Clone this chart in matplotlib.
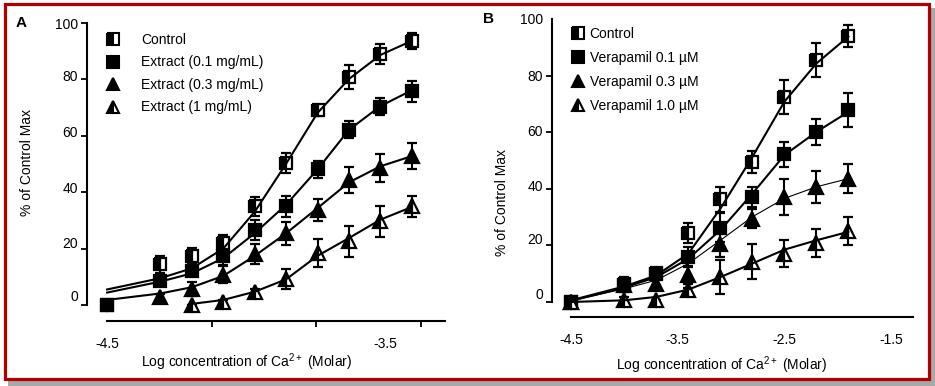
import numpy as np
import matplotlib
matplotlib.use("Agg")
import matplotlib.pyplot as plt
from matplotlib.lines import Line2D
from matplotlib.patches import Rectangle

plt.rcParams['font.family'] = ['Liberation Sans', 'DejaVu Sans']
plt.rcParams['mathtext.fontset'] = 'custom'
plt.rcParams['mathtext.rm'] = 'Liberation Sans'
plt.rcParams['mathtext.it'] = 'Liberation Sans:italic'

nan = np.nan

# ---- panel A : extract ----
xa = [-4.5, -4.33, -4.23, -4.13, -4.03, -3.93, -3.83, -3.73, -3.63, -3.53]
labels_a = ["Control", "Extract (0.1 mg/mL)", "Extract (0.3 mg/mL)", "Extract (1 mg/mL)"]
a_ctrl = [0, 14.4, 17.4, 21.9, 34.9, 50.3, 68.9, 80.7, 89.0, 93.5]
a_ctrl_err = [0, 3, 2.7, 3, 3.3, 3.4, 2, 4.1, 3.5, 2.8]
a_ctrl_fit = [5.5, 9.5, 13, 20, 33, 50, 68, 80, 88.5, 93.5]
a_01 = [0, 8.5, 12.2, 17.2, 26.6, 34.9, 48, 62, 70.2, 75.7]
a_01_err = [0, 1.5, 2, 3, 3.5, 3.8, 3.1, 3, 3, 3.7]
a_01_fit = [4.4, 8.3, 11.2, 16.6, 25.4, 35.5, 48, 62, 70.4, 76]
a_03 = [nan, 3, 5.6, 10.7, 18.1, 25.4, 33.7, 44.4, 48.5, 52.9]
a_03_err = [0, 1, 2.4, 3, 3.6, 4.1, 4, 4.6, 5, 4.6]
a_03_fit = [1.8, 4.1, 6.3, 10.3, 17.4, 25.4, 34.3, 43.4, 49.1, 52.7]
a_1 = [nan, nan, 0, 1.2, 4.7, 9.1, 18.3, 22.5, 29.6, 34.9]
a_1_err = [0, 0, 0, 0.5, 0.8, 3.6, 4.9, 5.6, 5.6, 3.6]
a_1_fit = [nan, nan, 0.4, 1.8, 4.7, 9.1, 17.4, 23.7, 30.2, 34.7]

# ---- panel B : verapamil ----
xb = [-4.5, -4.0, -3.7, -3.4, -3.1, -2.8, -2.5, -2.2, -1.9]
labels_b = ["Control", "Verapamil 0.1 \u00b5M", "Verapamil 0.3 \u00b5M", "Verapamil 1.0 \u00b5M"]
b_ctrl = [0, 6.5, 10.3, 24.4, 36.3, 49.5, 72.5, 85.5, 94]
b_ctrl_err = [0, 2.5, 1.5, 3.5, 4.4, 3.8, 5.9, 6, 4]
b_ctrl_fit = [0.6, 5.5, 9.4, 17.1, 33, 51.3, 70.8, 84.3, 93.8]
b_01 = [0, 5.9, 9.8, 15.9, 26.3, 37.1, 52.2, 60.1, 67.8]
b_01_err = [0, 2.5, 2, 3.5, 5, 3.4, 4.4, 4.5, 5.9]
b_01_fit = [0.4, 5.1, 8.8, 15.3, 25.4, 38.3, 51.9, 60.1, 67.2]
b_03 = [0, 6, 6.5, 9.4, 20.6, 29.5, 37.1, 40.7, 43.6]
b_03_err = [0, 1, 2, 3.2, 4.7, 3.2, 6.2, 5.6, 5.1]
b_03_fit = [0.4, 4.7, 7.7, 13.6, 21.8, 30.1, 36.6, 40.7, 43.6]
b_1 = [0, 0.8, 0.8, 4.1, 8.8, 14.2, 17.1, 20.9, 25]
b_1_err = [0, 1, 0, 1, 6.1, 6.2, 4.9, 5, 5]
b_1_fit = [0, 0.6, 1.8, 4.4, 8.8, 13.6, 18.5, 21.8, 24.8]

# marker, fillstyle
styles = [('s', 'left'), ('s', 'full'), ('^', 'full'), ('^', 'left')]

W, H = 935, 386
fig = plt.figure(figsize=(W / 100, H / 100), dpi=100)


def px_axes(l, r, t, b):
    return fig.add_axes([l / W, 1 - b / H, (r - l) / W, (b - t) / H])


def draw_panel(ax, x, series, fit_lw):
    for (y, e, f), (m, fs), flw in zip(series, styles, fit_lw):
        ax.errorbar(x, y, yerr=e, fmt=m, ms=8.5 if m == 's' else 9.5,
                    mfc='black', mec='black', mew=1.6, fillstyle=fs,
                    markerfacecoloralt='white', ecolor='black',
                    elinewidth=1.5, capsize=3.8, capthick=1.5, zorder=3)
        ax.plot(x, f, color='black', lw=flw, zorder=4)


def style_axes(ax, xlo, xhi, ylo, yhi, xbound, xminor, xmajor, xmajlab, ylabpos):
    ax.set_xlim(xlo, xhi)
    ax.set_ylim(ylo, yhi)
    for s in ['top', 'right']:
        ax.spines[s].set_visible(False)
    ax.spines['left'].set_bounds(0, 100)
    ax.spines['bottom'].set_bounds(xbound[0], xbound[1])
    ax.spines['left'].set_linewidth(1.5)
    ax.spines['bottom'].set_linewidth(1.5)
    ax.set_yticks(ylabpos)
    ax.set_yticklabels(['0', '20', '40', '60', '80', '100'])
    ax.set_yticks([0, 20, 40, 60, 80, 100], minor=True)
    ax.set_xticks(xmajor)
    ax.set_xticklabels(xmajlab)
    ax.set_xticks(xminor, minor=True)
    ax.tick_params(which='major', length=0, labelsize=10)
    ax.tick_params(axis='y', which='major', pad=6.5)
    ax.tick_params(axis='x', which='major', pad=11.5)
    ax.tick_params(which='minor', length=4, width=1.3, direction='out')


axA = px_axes(87, 445, 20, 321)
draw_panel(axA, xa, [(a_ctrl, a_ctrl_err, a_ctrl_fit), (a_01, a_01_err, a_01_fit),
                     (a_03, a_03_err, a_03_fit), (a_1, a_1_err, a_1_fit)],
           [1.5, 1.5, 1.5, 1.5])
style_axes(axA, -4.564, -3.424, -5.66, 100.9, (-4.5, -3.424),
           [-4.5, -4.1667, -3.8333, -3.5], [-4.5, -3.615], ['-4.5', '-3.5'],
           [3.2, 22.1, 41.7, 61.5, 81.1, 99.8])

axB = px_axes(552, 913, 17, 317)
draw_panel(axB, xb, [(b_ctrl, b_ctrl_err, b_ctrl_fit), (b_01, b_01_err, b_01_fit),
                     (b_03, b_03_err, b_03_fit), (b_1, b_1_err, b_1_fit)],
           [1.5, 1.5, 0.8, 1.5])
style_axes(axB, -4.678, -1.295, -5.3, 100.7, (-4.5, -1.295),
           [-4.5, -3.5, -2.5, -1.5], [-4.5, -3.5, -2.5, -1.5], ['-4.5', '-3.5', '-2.5', '-1.5'],
           [2.9, 22.4, 41, 60.5, 80.2, 100])


def legend_handles():
    hs = []
    for m, fs in styles:
        hs.append(Line2D([], [], ls='none', marker=m, ms=9 if m == '^' else 8,
                         mfc='black', mec='black', mew=1.5, fillstyle=fs,
                         markerfacecoloralt='white'))
    return hs


axA.legend(legend_handles(), labels_a, loc='upper left', frameon=False,
           bbox_to_anchor=(106 / W, 1 - 33 / H), bbox_transform=fig.transFigure,
           fontsize=10, handlelength=1.0, handletextpad=1.55, labelspacing=0.61,
           borderpad=0, borderaxespad=0)
axB.legend(legend_handles(), labels_b, loc='upper left', frameon=False,
           bbox_to_anchor=(571 / W, 1 - 27 / H), bbox_transform=fig.transFigure,
           fontsize=10, handlelength=1.0, handletextpad=0.35, labelspacing=0.71,
           borderpad=0, borderaxespad=0)

xl = r'Log concentration of Ca$^{\mathrm{2+}}$ (Molar)'
fig.text(247 / W, 1 - 362 / H, xl, ha='center', va='center', fontsize=10)
fig.text(722 / W, 1 - 365 / H, xl, ha='center', va='center', fontsize=10)
fig.text(27 / W, 1 - 163 / H, '% of Control Max', rotation=90, ha='center', va='center', fontsize=10)
fig.text(502 / W, 1 - 202 / H, '% of Control Max', rotation=90, ha='center', va='center', fontsize=10)
fig.text(21.5 / W, 1 - 23 / H, 'A', ha='center', va='center', fontsize=11, fontweight='bold')
fig.text(488 / W, 1 - 19 / H, 'B', ha='center', va='center', fontsize=11, fontweight='bold')

# frame with shadow
fig.patches.append(Rectangle((930 / W, 0), 5 / W, 1 - 8 / H, transform=fig.transFigure,
                             facecolor='#a8a8a8', edgecolor='none', zorder=0))
fig.patches.append(Rectangle((8 / W, 0), 1 - 8 / W, 6 / H, transform=fig.transFigure,
                             facecolor='#a8a8a8', edgecolor='none', zorder=0))
fig.patches.append(Rectangle((4.5 / W, 1 - 378.5 / H), 924 / W, 375 / H, transform=fig.transFigure,
                             facecolor='none', edgecolor='#b00000', linewidth=2.3, zorder=5))

fig.savefig('out.png', dpi=100)
